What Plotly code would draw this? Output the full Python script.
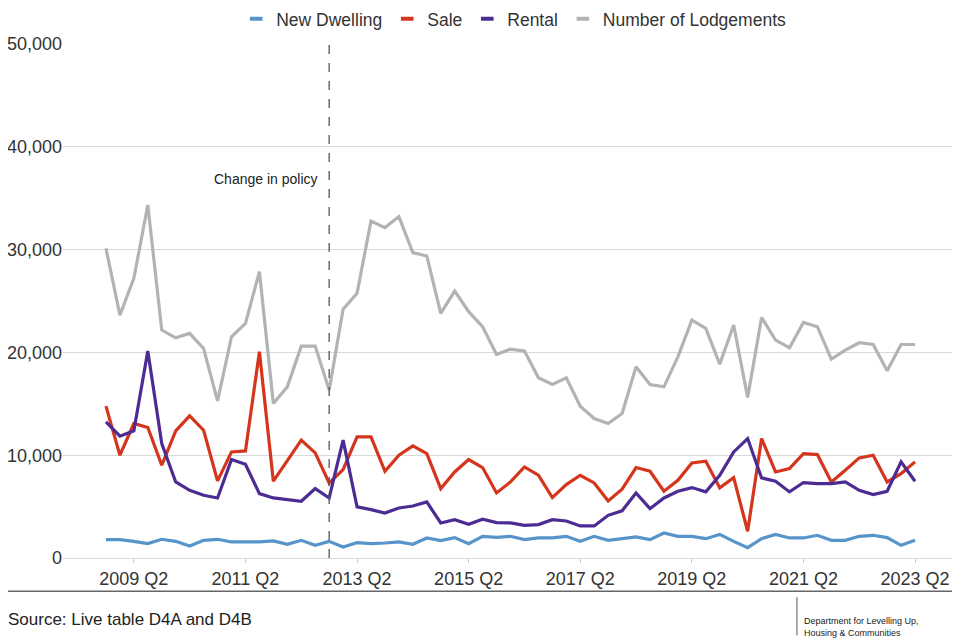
import plotly.graph_objects as go

quarters = []
for year in range(2008, 2024):
    for q in range(1, 5):
        label = f"{year} Q{q}"
        if (year == 2008 and q < 4) or (year == 2023 and q > 2):
            continue
        quarters.append(label)

new_dwelling = [1790, 1790, 1620, 1400, 1820, 1620, 1170, 1720, 1820, 1560,
                1560, 1560, 1660, 1330, 1720, 1230, 1620, 1070, 1490, 1400,
                1460, 1560, 1330, 1950, 1690, 1980, 1400, 2110, 2010, 2110,
                1790, 1950, 1950, 2110, 1620, 2110, 1720, 1900, 2050, 1790,
                2430, 2110, 2110, 1880, 2300, 1620, 1010, 1880, 2300, 1950,
                1950, 2210, 1720, 1720, 2110, 2210, 1980, 1230, 1720]

sale = [14770, 10000, 13080, 12690, 9020, 12370, 13830, 12430, 7500, 10320,
        10420, 20060, 7470, 9510, 11460, 10220, 7300, 8600, 11780, 11780,
        8440, 10000, 10910, 10160, 6750, 8370, 9580, 8800, 6330, 7400,
        8860, 8050, 5880, 7140, 8050, 7300, 5550, 6700, 8800, 8440,
        6490, 7560, 9250, 9410, 6820, 7820, 2600, 11620, 8370, 8700,
        10160, 10060, 7400, 8540, 9740, 10000, 7400, 8210, 9350]

rental = [13240, 11850, 12370, 20130, 11130, 7400, 6590, 6100, 5840, 9580,
          9120, 6260, 5840, 5680, 5520, 6750, 5840, 11460, 4970, 4710,
          4380, 4870, 5060, 5450, 3410, 3730, 3280, 3770, 3440, 3410,
          3180, 3250, 3730, 3600, 3120, 3120, 4150, 4590, 6330, 4800,
          5840, 6490, 6850, 6430, 8050, 10320, 11620, 7790, 7470, 6430,
          7340, 7240, 7240, 7400, 6590, 6170, 6490, 9350, 7470]

lodgements = [30120, 23630, 27200, 34340, 22170, 21420, 21850, 20380, 15290, 21520,
              22820, 27850, 15030, 16650, 20610, 20610, 16330, 24200, 25740, 32780,
              32140, 33210, 29700, 29380, 23790, 25970, 23960, 22500, 19800, 20320,
              20130, 17530, 16880, 17530, 14770, 13570, 13080, 14060, 18600, 16880,
              16650, 19570, 23140, 22330, 18860, 22660, 15610, 23400, 21200, 20450,
              22920, 22500, 19350, 20220, 20940, 20770, 18210, 20770, 20770]

series_names = ["New Dwelling", "Sale", "Rental", "Number of Lodgements"]
series_values = [new_dwelling, sale, rental, lodgements]
series_colors = ["#5694ca", "#d4351c", "#4c2c92", "#b1b4b6"]

tick_labels = ["2009 Q2", "2011 Q2", "2013 Q2", "2015 Q2", "2017 Q2",
               "2019 Q2", "2021 Q2", "2023 Q2"]
policy_quarter = "2012 Q4"
policy_label = "Change in policy"
source_text = "Source: Live table D4A and D4B"
dept_text = "Department for Levelling Up,<br>Housing & Communities"

fig = go.Figure()
order = [3, 1, 2, 0]
for k in order:
    fig.add_trace(go.Scatter(
        x=quarters, y=series_values[k], mode="lines", name=series_names[k],
        line=dict(color=series_colors[k], width=3.2), showlegend=False,
        hovertemplate="%{x}: %{y:,}<extra>" + series_names[k] + "</extra>"))
for k in range(4):
    fig.add_trace(go.Scatter(
        x=[None], y=[None], mode="markers", name=series_names[k],
        marker=dict(symbol="line-ew-open", size=9, color=series_colors[k],
                    line=dict(color=series_colors[k], width=4)),
        showlegend=True))

fig.add_shape(type="line", xref="x", yref="y", x0=policy_quarter, x1=policy_quarter,
              y0=0, y1=50000, line=dict(color="#555555", width=1.3, dash="dash"))
fig.add_annotation(x=policy_quarter, y=36860, xref="x", yref="y", text=policy_label,
                   showarrow=False, xanchor="right", xshift=-9,
                   font=dict(size=14, color="#222222"))

# footer
fig.add_shape(type="line", xref="paper", yref="paper", x0=-0.0618, x1=1.009,
              y0=-0.0648, y1=-0.0648, line=dict(color="#666666", width=1.5),
              layer="above")
fig.add_annotation(x=-0.0641, y=-0.1193, xref="paper", yref="paper", text=source_text,
                   showarrow=False, xanchor="left", yanchor="middle",
                   font=dict(size=17, color="#222222"))
fig.add_shape(type="line", xref="paper", yref="paper", x0=0.8256, x1=0.8256,
              y0=-0.0765, y1=-0.1505, line=dict(color="#555555", width=1))
fig.add_annotation(x=0.8313, y=-0.1349, xref="paper", yref="paper", text=dept_text,
                   showarrow=False, xanchor="left", yanchor="middle", align="left",
                   font=dict(size=9, color="#222222"))

fig.update_layout(
    width=952, height=632,
    margin=dict(l=55, r=8, t=36, b=82, autoexpand=False),
    paper_bgcolor="white", plot_bgcolor="white",
    font=dict(family="Liberation Sans, Arial, sans-serif", color="#333333"),
    legend=dict(orientation="h", x=0.507, xanchor="center", y=1.0487, yanchor="middle",
                font=dict(size=17.5, color="#333333"), itemwidth=30,
                tracegroupgap=0, bgcolor="rgba(0,0,0,0)"),
    xaxis=dict(type="category", range=[-3.08, 60.65], tickmode="array",
               tickvals=tick_labels, ticktext=tick_labels, showgrid=False,
               ticks="outside", ticklen=4, tickcolor="#cccccc",
               tickfont=dict(size=18, color="#333333"), showline=False,
               zeroline=False),
    yaxis=dict(range=[0, 50000], tickvals=[0, 10000, 20000, 30000, 40000, 50000],
               tickformat=",", showgrid=True, gridcolor="#d9d9d9", gridwidth=1,
               zeroline=True, zerolinecolor="#d9d9d9", zerolinewidth=1,
               tickfont=dict(size=18, color="#333333"), ticks="", showline=False),
)

fig.write_html("out.html")
